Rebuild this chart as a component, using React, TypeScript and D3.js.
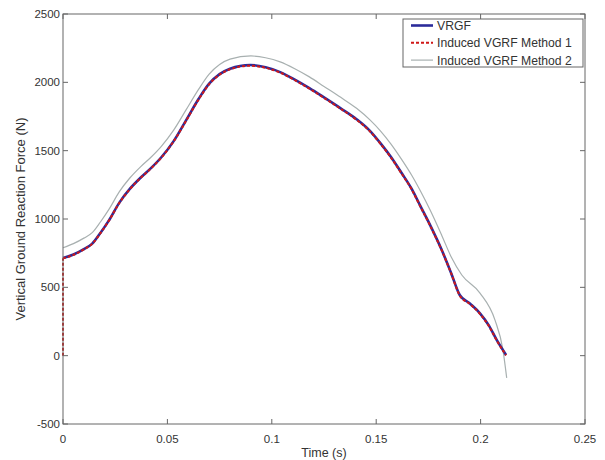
import React from 'react'
import * as d3 from 'd3'

// time (s) and force (N)
const timeA = [0, 0.005, 0.01, 0.014, 0.018, 0.022, 0.027, 0.032, 0.037, 0.042, 0.047, 0.053, 0.059, 0.065, 0.07, 0.075, 0.08, 0.0896, 0.097, 0.104, 0.111, 0.118, 0.125, 0.133, 0.1406, 0.147, 0.152, 0.157, 0.162, 0.167, 0.171, 0.176, 0.1814, 0.186, 0.19, 0.195, 0.1997, 0.204, 0.2077, 0.2122]
const vrgf = [715, 740, 780, 820, 900, 990, 1120, 1220, 1300, 1370, 1450, 1570, 1724, 1880, 1990, 2060, 2100, 2127, 2110, 2075, 2020, 1958, 1890, 1810, 1730, 1645, 1555, 1455, 1340, 1220, 1100, 950, 773, 600, 444, 380, 310, 220, 115, 5]
// method 1 starts from zero at t = 0
const timeM1 = [0, ...timeA]
const method1 = [0, 712, 738, 778, 818, 898, 988, 1118, 1218, 1298, 1368, 1448, 1568, 1720, 1876, 1986, 2056, 2096, 2122, 2106, 2071, 2016, 1954, 1886, 1806, 1726, 1641, 1551, 1451, 1336, 1216, 1096, 946, 770, 598, 440, 376, 306, 216, 112, 2]
const timeM2 = [0, 0.005, 0.01, 0.014, 0.018, 0.022, 0.027, 0.032, 0.037, 0.042, 0.047, 0.053, 0.059, 0.065, 0.07, 0.075, 0.08, 0.09, 0.097, 0.104, 0.111, 0.118, 0.125, 0.133, 0.1406, 0.147, 0.152, 0.157, 0.162, 0.167, 0.171, 0.176, 0.1814, 0.186, 0.191, 0.1997, 0.2069, 0.2107, 0.2125]
const method2 = [790, 820, 860, 900, 980, 1070, 1200, 1300, 1380, 1450, 1530, 1650, 1800, 1950, 2060, 2130, 2170, 2193, 2180, 2150, 2100, 2040, 1970, 1890, 1810, 1725, 1645, 1550, 1440, 1320, 1210, 1060, 880, 720, 590, 458, 260, 42, -163]

const xTicks = [0, 0.05, 0.1, 0.15, 0.2, 0.25]
const xTickLabels = ['0', '0.05', '0.1', '0.15', '0.2', '0.25']
const yTicks = [-500, 0, 500, 1000, 1500, 2000, 2500]
const yTickLabels = ['-500', '0', '500', '1000', '1500', '2000', '2500']
const legendLabels = ['VRGF', 'Induced VGRF Method 1', 'Induced VGRF Method 2']

const W = 605
const H = 460
const L = 63, R = 585, T = 14, B = 424

export default function App() {
  const x = d3.scaleLinear().domain([0, 0.25]).range([L, R])
  const y = d3.scaleLinear().domain([-500, 2500]).range([B, T])
  const line = d3.line<[number, number]>().x(d => x(d[0])).y(d => y(d[1])).curve(d3.curveMonotoneX)
  const lineStraight = d3.line<[number, number]>().x(d => x(d[0])).y(d => y(d[1]))

  const pA = line(timeA.map((t, i) => [t, vrgf[i]]) as [number, number][]) || ''
  // the first segment of method 1 is vertical, so draw it apart from the smoothed part
  const p1a = lineStraight([[timeM1[0], method1[0]], [timeM1[1], method1[1]]]) || ''
  const p1 = line(timeM1.slice(1).map((t, i) => [t, method1[i + 1]]) as [number, number][]) || ''
  const p2 = line(timeM2.map((t, i) => [t, method2[i]]) as [number, number][]) || ''

  const font = 'Arial, "Liberation Sans", sans-serif'
  const axisCol = '#666'
  const txtCol = '#333'
  const tick = 5

  const styles = [
    { stroke: '#2b2b9a', width: 2.6, dash: undefined as string | undefined },
    { stroke: '#d01818', width: 2, dash: '3,2' },
    { stroke: '#a8b0b0', width: 1.2, dash: undefined },
  ]

  return (
    <svg width={W} height={H} style={{ position: 'absolute', left: 0, top: 0, background: '#fff' }} fontFamily={font}>
      <rect x={0} y={0} width={W} height={H} fill="#fff" />
      {/* data */}
      <path d={p2} fill="none" stroke={styles[2].stroke} strokeWidth={styles[2].width} />
      <path d={pA} fill="none" stroke={styles[0].stroke} strokeWidth={styles[0].width} strokeLinejoin="round" />
      <path d={p1a} fill="none" stroke={styles[1].stroke} strokeWidth={styles[1].width} strokeDasharray={styles[1].dash} />
      <path d={p1} fill="none" stroke={styles[1].stroke} strokeWidth={styles[1].width} strokeDasharray={styles[1].dash} />

      {/* box */}
      <rect x={L} y={T} width={R - L} height={B - T} fill="none" stroke={axisCol} strokeWidth={1} />
      {xTicks.map((t, i) => (
        <g key={'x' + i}>
          <line x1={x(t)} x2={x(t)} y1={B} y2={B - tick} stroke={axisCol} />
          <line x1={x(t)} x2={x(t)} y1={T} y2={T + tick} stroke={axisCol} />
          <text x={x(t)} y={443} fontSize={11.5} fill={txtCol} textAnchor="middle">{xTickLabels[i]}</text>
        </g>
      ))}
      {yTicks.map((v, i) => (
        <g key={'y' + i}>
          <line x1={L} x2={L + tick} y1={y(v)} y2={y(v)} stroke={axisCol} />
          <line x1={R} x2={R - tick} y1={y(v)} y2={y(v)} stroke={axisCol} />
          <text x={L - 3} y={y(v) + 4} fontSize={11.5} fill={txtCol} textAnchor="end">{yTickLabels[i]}</text>
        </g>
      ))}
      <text x={(L + R) / 2} y={457} fontSize={12.5} fill={txtCol} textAnchor="middle">Time (s)</text>
      <text transform={`translate(25,${(T + B) / 2}) rotate(-90)`} fontSize={13} fill={txtCol} textAnchor="middle">Vertical Ground Reaction Force (N)</text>

      {/* legend */}
      <rect x={403} y={19} width={180} height={48} fill="#fff" stroke={axisCol} />
      {legendLabels.map((lab, i) => (
        <g key={'l' + i}>
          <line x1={411} x2={433} y1={25.5 + i * 17.3} y2={25.5 + i * 17.3} stroke={styles[i].stroke} strokeWidth={styles[i].width} strokeDasharray={styles[i].dash} />
          <text x={437} y={30 + i * 17.3} fontSize={12.2} fill={txtCol}>{lab}</text>
        </g>
      ))}
    </svg>
  )
}
